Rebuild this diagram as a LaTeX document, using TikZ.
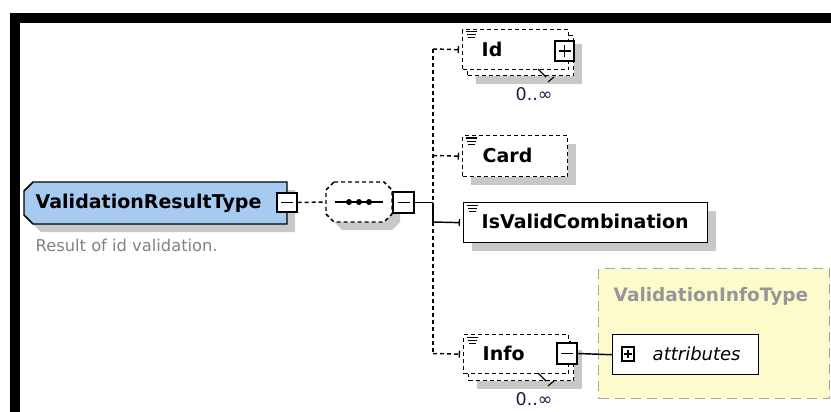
\documentclass[tikz,border=0pt]{standalone}
\usepackage{fontspec}
\setmainfont{DejaVu Sans}
\usetikzlibrary{arrows.meta,shadows}
\definecolor{typeblue}{RGB}{166,202,240}
\definecolor{shadowgrey}{RGB}{200,200,200}
\definecolor{infoyellow}{RGB}{253,251,204}
\definecolor{yellowedge}{RGB}{165,165,165}
\definecolor{notegrey}{RGB}{130,130,130}
\definecolor{typegrey}{RGB}{150,150,150}
\definecolor{occurs}{RGB}{25,25,80}
\begin{document}
\begin{tikzpicture}[x=1pt,y=-1pt,line width=1.45pt,
  dashedline/.style={dash pattern=on 4pt off 3pt},
  dropsh/.style={drop shadow={shadow xshift=8pt,shadow yshift=-8pt,opacity=1,fill=shadowgrey}},
  elem/.style={draw,fill=white,inner sep=0pt,anchor=north west},
  tog/.style={draw,fill=white,inner sep=0pt,minimum width=20pt,minimum height=20pt},
  lbl/.style={inner sep=0pt,anchor=base west,font=\bfseries\fontsize{19}{22}\selectfont},
  occ/.style={inner sep=0pt,anchor=base west,text=occurs,font=\fontsize{17.5}{20}\selectfont},
  lnk/.style={-{Bar[width=7pt,line width=1.3pt]},shorten >=3pt},
  docicon/.pic={\draw[line width=1pt] (4,3)--(15,3) (5,6)--(14,6) (6,9)--(13,9);}
]
\useasboundingbox (0,0) rectangle (831,412);

% frame
\fill[black] (10,13) rectangle (831,23);
\fill[black] (10,13) rectangle (20,412);

% complex type of Info
\node[draw=yellowedge,fill=infoyellow,dash pattern=on 10pt off 6pt,anchor=north west,
      minimum width=231pt,minimum height=130pt,inner sep=0pt] (infotype) at (598,268) {};
\node[lbl,text=typegrey,font=\bfseries\fontsize{18.5}{22}\selectfont] (infotypelbl) at (613,301.5) {ValidationInfoType};

% global type
\fill[shadowgrey] (41,190) -- (295,190) -- (295,232) -- (41,232) -- (32,223) -- (32,199) -- cycle;
\draw[fill=typeblue] (33,182) -- (287,182) -- (287,224) -- (33,224) -- (24,215) -- (24,191) -- cycle;
\node[lbl] (typelbl) at (35,208) {ValidationResultType};
\node[inner sep=0pt,anchor=base west,text=notegrey,font=\fontsize{16.3}{18}\selectfont] (typedoc) at (35,251) {Result of id validation.};
\node[tog,minimum height=19pt] (typetog) at (287,202.5) {};
\draw (typetog.center) ++(-6,0) -- ++(12,0);

% sequence compositor
\fill[shadowgrey] (342,190) -- (392,190) -- (400,198) -- (400,222) -- (392,230) -- (342,230) -- (334,222) -- (334,198) -- cycle;
\draw[dashedline,fill=white] (334,182) -- (384,182) -- (392,190) -- (392,214) -- (384,222) -- (334,222) -- (326,214) -- (326,190) -- cycle;
\node[inner sep=0pt,minimum width=66pt,minimum height=40pt] (seq) at (359,202) {};
\draw (335,202) -- (383,202);
\fill (349,202) circle (3pt) (359,202) circle (3pt) (369,202) circle (3pt);
\node[tog,minimum width=21pt,minimum height=21pt] (seqtog) at (403.5,202.5) {};
\draw (seqtog.center) ++(-6,0) -- ++(12,0);

\draw[dashedline] (typetog.east) -- (seq.west);

% trunk of the sequence
\coordinate (tId) at (433,49);
\coordinate (tCard) at (433,155.5);
\coordinate (tSeq) at (433,202.5);
\coordinate (tIsv) at (433,222);
\coordinate (tInfo) at (433,353.5);
\draw (seqtog.east) -- (tSeq);
\draw[dashedline] (tId) -- (tSeq);
\draw (tSeq) -- (tIsv);
\draw[dashedline] (tIsv) -- (tInfo);

% Id
\node[elem,dashedline,dropsh,minimum width=106pt,minimum height=40pt] (idback) at (467,35) {};
\node[elem,dashedline,minimum width=106pt,minimum height=40pt] (idfront) at (462,29) {};
\pic at (idfront.north west) {docicon};
\node[lbl] (idlbl) at (481,57) {Id};
\node[tog,minimum width=19pt,minimum height=20pt] (idtog) at (564.5,51) {};
\draw (idtog.center) ++(-6,0) -- ++(12,0) (idtog.center) ++(0,-6) -- ++(0,12);
\draw[line width=1.1pt] (538,69) -- (546,77) (548,82) -- (554,77);
\node[occ] (idocc) at (515,100) {0..∞};
\draw[dashedline,lnk] (tId) -- (idfront.west);

% Card
\node[elem,dashedline,dropsh,minimum width=105pt,minimum height=41pt] (card) at (462,135) {};
\pic at (card.north west) {docicon};
\node[lbl] (cardlbl) at (482,162) {Card};
\draw[dashedline,lnk] (tCard) -- (card.west);

% IsValidCombination
\node[elem,dropsh,minimum width=244pt,minimum height=40pt] (isv) at (463,202) {};
\pic at (isv.north west) {docicon};
\node[lbl] (isvlbl) at (481,228) {IsValidCombination};
\draw[lnk] (tIsv) -- (isv.west);

% Info
\node[elem,dashedline,dropsh,minimum width=105pt,minimum height=39pt] (infoback) at (468,341) {};
\node[elem,dashedline,minimum width=105pt,minimum height=39pt] (infofront) at (463,334) {};
\pic at (infofront.north west) {docicon};
\node[lbl] (infolbl) at (482,360) {Info};
\node[tog,minimum width=20pt,minimum height=21pt] (infotog) at (567,353.5) {};
\draw (infotog.center) ++(-6,0) -- ++(12,0);
\draw[line width=1.1pt] (538,373) -- (546,381) (548,386) -- (554,381);
\node[occ] (infoocc) at (515,405) {0..∞};
\draw[dashedline,lnk] (tInfo) -- (infofront.west);

% attributes
\node[elem,minimum width=146pt,minimum height=40pt] (attr) at (612,334) {};
\node[tog,minimum width=12pt,minimum height=14pt] (attrtog) at (628,354) {};
\draw[line width=1.1pt] (attrtog.center) ++(-4,0) -- ++(8,0) (attrtog.center) ++(0,-4) -- ++(0,8);
\node[inner sep=0pt,anchor=base west,font=\itshape\fontsize{18}{20}\selectfont] (attrlbl) at (652,360) {attributes};
\draw (infotog.east) -- (attr.west);
\end{tikzpicture}
\end{document}
